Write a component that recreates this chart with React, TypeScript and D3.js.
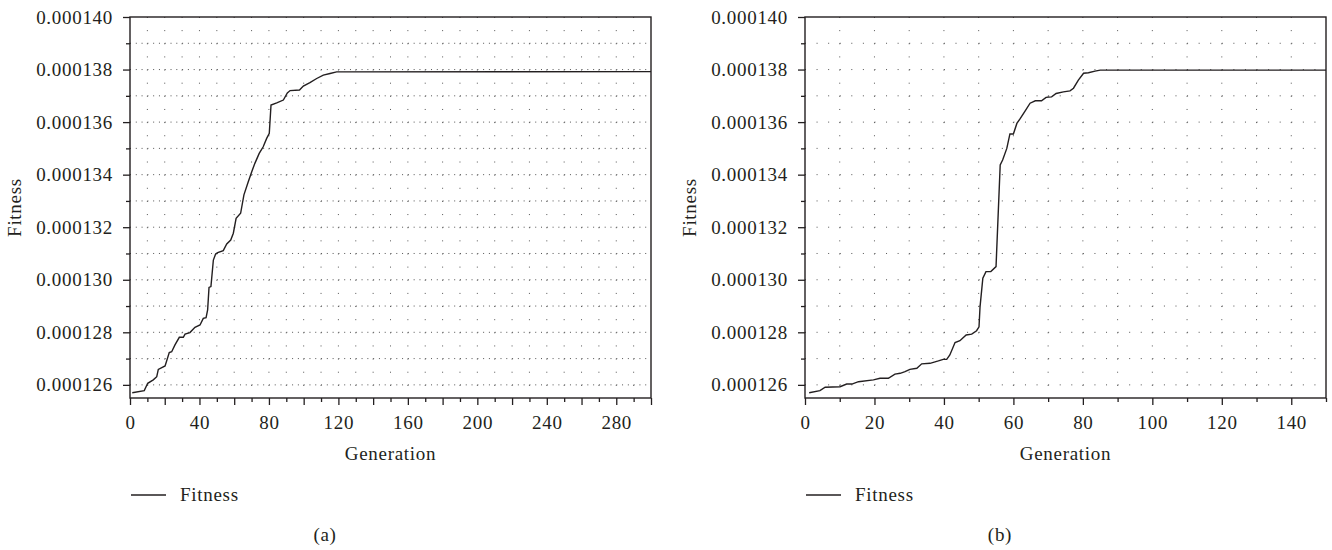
import { useEffect, useRef } from "react";
import * as d3 from "d3";

// panel (a): generation vs fitness (fitness values in units of 1e-6)
const genA = [
  1.3, 8.2, 10.2, 13.4, 15.4, 16.3, 20.2, 22.6, 24, 25.9,
  28.4, 30.7, 31.7, 34.5, 37.4, 40.3, 42.2, 43.8, 44.7, 45.5,
  46.6, 48, 49.3, 50.5, 53.7, 55.7, 58, 59.5, 61.1, 63.7,
  65.6, 68.1, 70.1, 71.9, 74.4, 76.7, 78.7, 80.2, 81.2, 84.5,
  88.3, 90.6, 92.2, 97.6, 99.8, 103.6, 107.5, 111.3, 115.2, 119,
  300,
];
const fitA_e6 = [
  125.70, 125.78, 126.06, 126.19, 126.31, 126.59, 126.72, 127.23, 127.26, 127.52,
  127.81, 127.81, 127.93, 127.99, 128.19, 128.28, 128.53, 128.56, 128.85, 129.71,
  129.74, 130.75, 130.98, 131.03, 131.11, 131.36, 131.51, 131.77, 132.34, 132.53,
  133.23, 133.73, 134.11, 134.43, 134.81, 135.06, 135.38, 135.57, 136.65, 136.73,
  136.84, 137.11, 137.20, 137.22, 137.37, 137.50, 137.66, 137.79, 137.85, 137.91,
  137.92,
];

// panel (b)
const genB = [
  1.2, 4.3, 5.8, 10.1, 12, 13.5, 15.4, 19.7, 21.6, 24,
  25.9, 27.4, 28.8, 30.2, 32.2, 33.6, 36, 38.4, 39.8, 40.8,
  41.7, 43.2, 44.6, 46.4, 48, 49.4, 50.1, 50.4, 51.2, 52.1,
  53.5, 55, 56.2, 56.9, 58.1, 59, 60, 61, 61.9, 63.4,
  64.8, 66.3, 68.1, 69.4, 71, 72.3, 74.4, 76.3, 77.3, 78.7,
  80.2, 81.6, 83.5, 85, 150,
];
const fitB_e6 = [
  125.70, 125.78, 125.91, 125.93, 126.03, 126.03, 126.12, 126.19, 126.25, 126.25,
  126.41, 126.44, 126.50, 126.59, 126.63, 126.80, 126.82, 126.91, 126.97, 126.97,
  127.14, 127.61, 127.68, 127.90, 127.93, 128.06, 128.21, 128.98, 130.06, 130.31,
  130.31, 130.50, 134.37, 134.56, 135.00, 135.55, 135.55, 135.95, 136.12, 136.43,
  136.72, 136.81, 136.81, 136.94, 136.96, 137.09, 137.15, 137.19, 137.29, 137.60,
  137.86, 137.88, 137.94, 137.98, 137.98,
];

const yMajor_e6 = [126, 128, 130, 132, 134, 136, 138, 140];
const yMinor_e6 = [127, 129, 131, 133, 135, 137, 139];
const yGrid_e6 = [126, 127, 128, 129, 130, 131, 132, 133, 134, 135, 136, 137, 138, 139];

const FONT = "'Liberation Serif', 'Times New Roman', serif";
const INK = "#231f20";
const FS = 19;

function drawPanel(svg, cfg) {
  const { gens, fits, left, right, xMax, labelStep, caption, captionX } = cfg;
  const top = 17, bottom = 398;
  const x = d3.scaleLinear().domain([0, xMax]).range([left, right]);
  const y = d3.scaleLinear().domain([0.0001255, 0.00014]).range([bottom, top]);

  const g = svg.append("g");

  // dotted grid
  const dotX = x(10 / 3) - x(0);
  const dotY = y(0.0000005) - y(0.000001);
  const grid = g.append("g").attr("stroke", "#555").attr("stroke-width", 1);
  grid.selectAll("line.h")
    .data(yGrid_e6.map(v => v * 1e-6))
    .enter().append("line")
    .attr("x1", left).attr("x2", right)
    .attr("y1", d => y(d)).attr("y2", d => y(d))
    .attr("stroke-dasharray", `1 ${dotX - 1}`);
  grid.selectAll("line.v")
    .data(d3.range(10, xMax, 10))
    .enter().append("line")
    .attr("x1", d => x(d)).attr("x2", d => x(d))
    .attr("y1", top).attr("y2", bottom)
    .attr("stroke-dasharray", `1 ${Math.abs(dotY) - 1}`);

  // curve
  const line = d3.line().x(d => x(d[0])).y(d => y(d[1]));
  g.append("path")
    .datum(gens.map((v, i) => [v, fits[i]]))
    .attr("d", line)
    .attr("fill", "none")
    .attr("stroke", INK)
    .attr("stroke-width", 1.4);

  // frame
  g.append("rect")
    .attr("x", left).attr("y", top)
    .attr("width", right - left).attr("height", bottom - top)
    .attr("fill", "none").attr("stroke", INK).attr("stroke-width", 1.4);

  const styleAxis = (sel) => {
    sel.select(".domain").remove();
    sel.selectAll("line").attr("stroke", INK).attr("stroke-width", 1.3);
    sel.selectAll("text")
      .attr("fill", INK)
      .style("font-family", FONT)
      .style("font-size", `${FS}px`)
      .style("letter-spacing", "0.7px");
  };

  // y axis
  g.append("g").attr("transform", `translate(${left},0)`)
    .call(d3.axisLeft(y).tickValues(yMinor_e6.map(v => v * 1e-6)).tickSize(4).tickFormat(() => ""))
    .call(styleAxis);
  g.append("g").attr("transform", `translate(${left},0)`)
    .call(d3.axisLeft(y).tickValues(yMajor_e6.map(v => v * 1e-6)).tickSize(7).tickPadding(10)
      .tickFormat(d3.format(".6f")))
    .call(styleAxis);

  // x axis
  g.append("g").attr("transform", `translate(0,${bottom})`)
    .call(d3.axisBottom(x).tickValues(d3.range(10, xMax + 1, 20)).tickSize(4).tickFormat(() => ""))
    .call(styleAxis);
  g.append("g").attr("transform", `translate(0,${bottom})`)
    .call(d3.axisBottom(x).tickValues(d3.range(0, xMax + 1, 20)).tickSize(7).tickPadding(11)
      .tickFormat(d => (d % labelStep === 0 && d < xMax ? String(d) : "")))
    .call(styleAxis);

  const txt = (sel) => sel
    .attr("fill", INK)
    .style("font-family", FONT)
    .style("font-size", `${FS}px`)
    .style("letter-spacing", "0.7px");

  // axis titles
  g.append("text")
    .attr("x", (left + right) / 2).attr("y", 460)
    .attr("text-anchor", "middle")
    .text("Generation").call(txt);
  g.append("text")
    .attr("transform", `translate(${left - 109},${(top + bottom) / 2}) rotate(-90)`)
    .attr("text-anchor", "middle")
    .text("Fitness").call(txt);

  // legend
  g.append("line")
    .attr("x1", left + 1).attr("x2", left + 36)
    .attr("y1", 495).attr("y2", 495)
    .attr("stroke", INK).attr("stroke-width", 1.3);
  g.append("text")
    .attr("x", left + 50).attr("y", 501)
    .text("Fitness").call(txt);

  // caption
  g.append("text")
    .attr("x", captionX).attr("y", 541)
    .attr("text-anchor", "middle")
    .text(caption).call(txt);
}

export default function App() {
  const ref = useRef(null);

  useEffect(() => {
    const svg = d3.select(ref.current);
    svg.selectAll("*").remove();
    drawPanel(svg, {
      gens: genA, fits: fitA_e6.map(v => v * 1e-6),
      left: 130, right: 651, xMax: 300, labelStep: 40,
      caption: "(a)", captionX: 325,
    });
    drawPanel(svg, {
      gens: genB, fits: fitB_e6.map(v => v * 1e-6),
      left: 805, right: 1326, xMax: 150, labelStep: 20,
      caption: "(b)", captionX: 1000,
    });
  }, []);

  return (
    <svg
      ref={ref}
      width={1332}
      height={550}
      style={{ position: "absolute", left: 0, top: 0, background: "#fff" }}
    />
  );
}
